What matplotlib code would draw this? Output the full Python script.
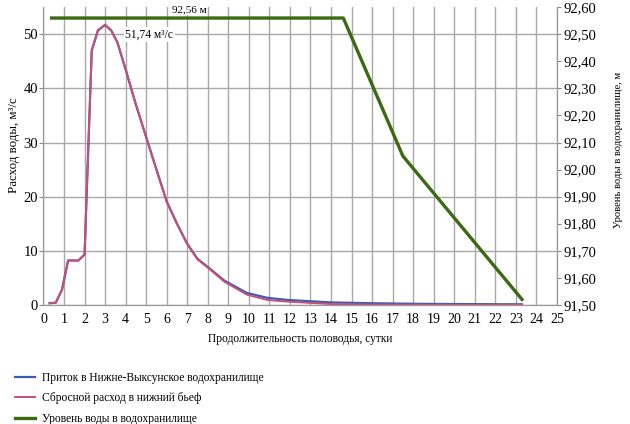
import matplotlib
matplotlib.use("Agg")
import matplotlib.pyplot as plt
from matplotlib.ticker import FuncFormatter

plt.rcParams['font.family'] = ['Liberation Serif', 'DejaVu Serif']

# данные
days_q = [0.3, 0.6, 0.9, 1.2, 1.7, 2.0, 2.35, 2.65, 3.0, 3.3, 3.6, 4.0, 4.5, 5.0,
          5.5, 6.0, 6.5, 7.0, 7.5, 8.0, 8.8, 9.9, 10.9, 11.9, 14.0, 16.0, 18.0,
          20.0, 23.3]
inflow = [0.3, 0.4, 2.8, 8.2, 8.2, 9.3, 47.0, 50.7, 51.74, 50.7, 48.5, 43.5,
          37.0, 31.0, 25.0, 19.1, 15.0, 11.3, 8.5, 7.0, 4.5, 2.2, 1.3, 0.9,
          0.45, 0.3, 0.2, 0.15, 0.1]
outflow = [0.3, 0.4, 2.8, 8.2, 8.2, 9.3, 47.0, 50.7, 51.74, 50.7, 48.5, 43.5,
           37.0, 31.0, 25.0, 19.1, 15.0, 11.2, 8.4, 6.9, 4.3, 1.9, 0.9, 0.6,
           0.15, 0.05, 0.02, 0.0, 0.0]

days_h = [0.4, 14.6, 17.5, 23.3]
level = [92.56, 92.56, 92.05, 91.52]

fig = plt.figure(figsize=(6.3, 4.24), dpi=100)
ax = fig.add_axes([0.069, 0.281, 0.815, 0.702])
ax2 = ax.twinx()

ax.plot(days_q, inflow, color='#3a5cb4', lw=1.6, label='Приток в Нижне-Выксунское водохранилище')
ax.plot(days_q, outflow, color='#c94f78', lw=1.4, label='Сбросной расход в нижний бьеф')
ax2.plot(days_h, level, color='#3b6a12', lw=2.4, label='Уровень воды в водохранилище')

ax.set_xlim(0, 25)
ax.set_ylim(0, 55)
ax2.set_ylim(91.5, 92.6)
ax.set_xticks(range(0, 26))
ax.set_yticks([0, 10, 20, 30, 40, 50])
ax2.set_yticks([91.5 + 0.1 * i for i in range(12)])
ax2.yaxis.set_major_formatter(FuncFormatter(lambda v, p: ('%.2f' % v).replace('.', ',')))

ax.grid(True, color='#a8a8a8', lw=1)
ax.tick_params(axis='x', length=0, labelsize=10, pad=6)
ax.tick_params(axis='y', length=3, labelsize=10.5, pad=1, color='#888888')
ax2.tick_params(axis='y', length=3, labelsize=10.5, pad=2, color='#888888')
for a in (ax, ax2):
    a.spines['top'].set_visible(False)
    for s in ('left', 'right', 'bottom'):
        a.spines[s].set_color('#999999')

ax.set_xlabel('Продолжительность половодья, сутки', fontsize=8.3, labelpad=5)
fig.text(0.022, 0.658, 'Расход воды, м³/с', rotation=90, va='center', ha='center', fontsize=9.3)
fig.text(0.982, 0.646, 'Уровень воды в водохранилище, м', rotation=90, va='center', ha='center', fontsize=7.7)

ax.text(5.15, 50, '51,74 м³/с', ha='center', va='center', fontsize=8.3,
        bbox=dict(facecolor='white', edgecolor='none', pad=1))
ax2.text(7.1, 92.575, '92,56 м', ha='center', va='bottom', fontsize=8, clip_on=False,
         bbox=dict(facecolor='white', edgecolor='none', pad=0.5))

h1, l1 = ax.get_legend_handles_labels()
h2, l2 = ax2.get_legend_handles_labels()
fig.legend(h1 + h2, l1 + l2, loc='upper left', bbox_to_anchor=(0.008, 0.148),
           frameon=False, fontsize=8.3, handlelength=1.7, handletextpad=0.6,
           labelspacing=0.75)

fig.savefig('out.png', dpi=100)
